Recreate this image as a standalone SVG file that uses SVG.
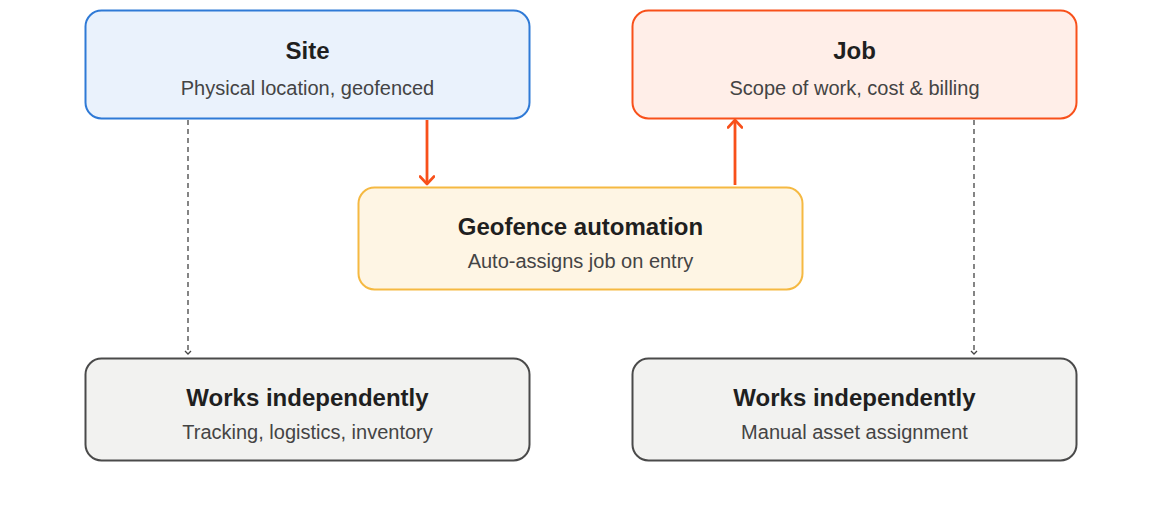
<svg xmlns="http://www.w3.org/2000/svg" width="1162" height="522" viewBox="0 0 1162 522">
<defs>
<style>
.t{font-family:"Liberation Sans",Arial,sans-serif;font-weight:bold;font-size:24px;fill:#1f1f1f;text-anchor:middle}
.s{font-family:"Liberation Sans",Arial,sans-serif;font-size:20px;fill:#444;text-anchor:middle}
.box{stroke-width:2}
.solid{stroke:#f8501a;stroke-width:2.8;fill:none}
.dash{stroke:#444;stroke-width:1.3;stroke-dasharray:5 4;fill:none}
</style>
<marker id="ao" viewBox="0 0 14 16" refX="12" refY="8" markerWidth="14" markerHeight="16" markerUnits="userSpaceOnUse" orient="auto">
<path d="M4.5,1 L12,8 L4.5,15" fill="none" stroke="#f8501a" stroke-width="2.6" stroke-linecap="round" stroke-linejoin="round"/>
</marker>
<marker id="ad" viewBox="0 0 8 8" refX="6" refY="4" markerWidth="8" markerHeight="8" markerUnits="userSpaceOnUse" orient="auto">
<path d="M3,1 L6,4 L3,7" fill="none" stroke="#444" stroke-width="1.3"/>
</marker>
</defs>
<rect width="1162" height="522" fill="#fff"/>
<g id="connectors">
<line class="solid" x1="427" y1="120" x2="427" y2="184" marker-end="url(#ao)"/>
<line class="solid" x1="735" y1="185" x2="735" y2="120" marker-end="url(#ao)"/>
<line class="dash" x1="188" y1="120" x2="188" y2="354" marker-end="url(#ad)"/>
<line class="dash" x1="974" y1="120" x2="974" y2="354" marker-end="url(#ad)"/>
</g>
<g id="site">
<rect class="box" x="85.5" y="10.5" width="444" height="108" rx="16" fill="#eaf2fc" stroke="#2f7ad6"/>
<text class="t" x="307.5" y="59">Site</text>
<text class="s" x="307.5" y="95">Physical location, geofenced</text>
</g>
<g id="job">
<rect class="box" x="632.5" y="10.5" width="444" height="108" rx="16" fill="#ffeee8" stroke="#f8501a"/>
<text class="t" x="854.5" y="59">Job</text>
<text class="s" x="854.5" y="95">Scope of work, cost &amp; billing</text>
</g>
<g id="geofence">
<rect class="box" x="358.5" y="187.5" width="444" height="102" rx="16" fill="#fef5e4" stroke="#f5b942"/>
<text class="t" x="580.5" y="235">Geofence automation</text>
<text class="s" x="580.5" y="268">Auto-assigns job on entry</text>
</g>
<g id="indep-left">
<rect class="box" x="85.5" y="358.5" width="444" height="102" rx="16" fill="#f2f2f0" stroke="#4a4a4a"/>
<text class="t" x="307.5" y="406">Works independently</text>
<text class="s" x="307.5" y="439">Tracking, logistics, inventory</text>
</g>
<g id="indep-right">
<rect class="box" x="632.5" y="358.5" width="444" height="102" rx="16" fill="#f2f2f0" stroke="#4a4a4a"/>
<text class="t" x="854.5" y="406">Works independently</text>
<text class="s" x="854.5" y="439">Manual asset assignment</text>
</g>
</svg>
